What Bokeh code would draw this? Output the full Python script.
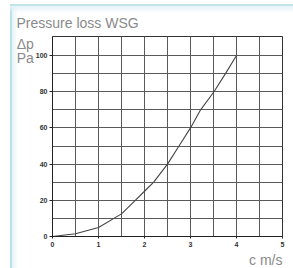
from bokeh.plotting import figure
from bokeh.models import FixedTicker, Range1d, Title
from bokeh.embed import file_html
from bokeh.resources import INLINE

# data
c_vals = [0, 0.5, 1.0, 1.5, 1.8, 2.0, 2.2, 2.5, 2.75, 3.0, 3.22, 3.51, 3.76, 4.0]
dp_vals = [0, 1.5, 5, 12.5, 20, 25, 30, 40, 50, 60, 70, 80, 90, 100]
x_ticks = [0, 1, 2, 3, 4, 5]
y_ticks = [0, 20, 40, 60, 80, 100]
x_grid = [0.5, 1, 1.5, 2, 2.5, 3, 3.5, 4, 4.5]
y_grid = [10, 20, 30, 40, 50, 60, 70, 80, 90, 100]
title_text = "Pressure loss WSG"
y_label = "\u00a0\n\u00a0\nΔp\nPa"
x_label = "c m/s"

W, H = 293, 268
p = figure(width=W, height=H, output_backend="svg", toolbar_location=None,
           x_range=Range1d(0, 5), y_range=Range1d(0, 110.5),
           min_border_left=52, min_border_right=11, min_border_top=36, min_border_bottom=32)
p.border_fill_alpha = 0
p.background_fill_color = "white"
p.outline_line_color = "#333333"
p.outline_line_width = 1

p.styles = {
    "background": "linear-gradient(to bottom, rgba(255,255,255,0) 4px, #c4e2ea 4px, #c4e2ea 6px, #e3f2f6 6px, rgba(255,255,255,0) 13px) 10px 0px / 100% 100% no-repeat,"
                  "linear-gradient(to right, rgba(255,255,255,0) 10px, #bcdfe9 10px, #bcdfe9 12px, #e4f3f7 12px, rgba(255,255,255,0) 18px) 0px 4px / 100% 100% no-repeat,"
                  "white"
}

p.title.text = title_text
p.title.align = "left"
p.title.offset = -36
p.title.standoff = 12
p.title.text_font = "Liberation Sans"
p.title.text_font_size = "14px"
p.title.text_font_style = "normal"
p.title.text_color = "#8a8a8a"

p.xgrid.ticker = FixedTicker(ticks=x_grid)
p.ygrid.ticker = FixedTicker(ticks=y_grid)
for g in (p.xgrid, p.ygrid):
    g.grid_line_color = "#5a5a5a"
    g.grid_line_width = 1
    g.grid_line_alpha = 1

p.xaxis.ticker = FixedTicker(ticks=x_ticks)
p.yaxis.ticker = FixedTicker(ticks=y_ticks)
for ax in (p.xaxis, p.yaxis):
    ax.axis_line_color = "#222222"
    ax.major_tick_line_color = "#222222"
    ax.minor_tick_line_color = None
    ax.major_tick_in = 0
    ax.major_label_text_font = "Liberation Sans"
    ax.major_label_text_font_size = "7px"
    ax.major_label_text_font_style = "bold"
    ax.major_label_text_color = "#333333"
p.xaxis.major_tick_out = 2
p.xaxis.major_label_standoff = 3
p.yaxis.major_tick_out = 3
p.yaxis.major_label_standoff = 2

p.yaxis.axis_label = y_label
p.yaxis.axis_label_align = "end"
p.yaxis.axis_label_orientation = "horizontal"
p.yaxis.axis_label_text_font = "Liberation Sans"
p.yaxis.axis_label_text_font_style = "normal"
p.yaxis.axis_label_text_color = "#8a8a8a"
p.yaxis.axis_label_text_font_size = "14px"
p.yaxis.axis_label_text_line_height = 0.9
p.yaxis.axis_label_standoff = -1

x_title = Title(text=x_label, align="right", standoff=0,
                text_font="Liberation Sans", text_font_size="14px",
                text_font_style="normal", text_color="#8a8a8a")
p.add_layout(x_title, "below")

p.line(c_vals, dp_vals, line_color="#444444", line_width=1.1)

open("out.html", "w").write(file_html(p, INLINE))
